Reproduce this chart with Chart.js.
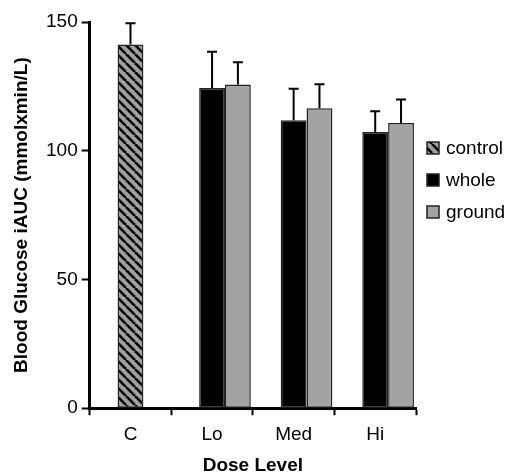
<!DOCTYPE html>
<html>
<head>
<meta charset="utf-8">
<script src="https://cdn.jsdelivr.net/npm/chart.js@4"></script>
<style>
  html, body { margin: 0; padding: 0; background: #fff; }
  #wrap { width: 510px; height: 475px; }
</style>
</head>
<body>
<div id="wrap"><canvas id="glucoseChart" width="510" height="475"></canvas></div>
<script>
// --- Data ---
const doseLevels = ["C", "Lo", "Med", "Hi"];
const controlMeans = [141.3, null, null, null];
const controlErr = [8.2, null, null, null];
const wholeMeans = [null, 124.4, 111.8, 107.3];
const wholeErr = [null, 14.0, 12.3, 8.0];
const groundMeans = [null, 125.7, 116.5, 110.8];
const groundErr = [null, 8.7, 9.3, 9.1];
const emptySlot = [null, null, null, null]; // first (unused) slot of each group
const yTicks = [0, 50, 100, 150];

const FONT = "'Liberation Sans', Arial, sans-serif";

// --- Hatched fill for control ---
function makeHatch() {
    const s = 9;
    const c = document.createElement("canvas");
    c.width = s; c.height = s;
    const g = c.getContext("2d");
    g.fillStyle = "#a0a0a0";
    g.fillRect(0, 0, s, s);
    g.strokeStyle = "#000";
    g.lineWidth = 2.6;
    for (let k = -1; k <= 1; k++) {
        g.beginPath();
        g.moveTo(k * s, 0);
        g.lineTo(k * s + s, s);
        g.stroke();
    }
    return g.createPattern(c, "repeat");
}
const hatch = makeHatch();

// --- Error bars (upper only) ---
const errorBars = {
    id: "errorBars",
    afterDatasetsDraw(chart) {
        const ctx = chart.ctx;
        const y = chart.scales.y;
        chart.data.datasets.forEach((ds, di) => {
            if (!ds.errors) return;
            const meta = chart.getDatasetMeta(di);
            ds.data.forEach((v, i) => {
                if (v === null || ds.errors[i] === null) return;
                const bar = meta.data[i];
                const yTop = y.getPixelForValue(v + ds.errors[i]);
                ctx.save();
                ctx.strokeStyle = "#000";
                ctx.lineWidth = 2;
                ctx.beginPath();
                ctx.moveTo(bar.x, bar.y);
                ctx.lineTo(bar.x, yTop);
                ctx.moveTo(bar.x - 5, yTop);
                ctx.lineTo(bar.x + 5, yTop);
                ctx.stroke();
                ctx.restore();
            });
        });
    }
};

// --- Legend on the right ---
const sideLegend = {
    id: "sideLegend",
    afterDraw(chart) {
        const ctx = chart.ctx;
        const items = chart.data.datasets.filter(ds => ds.label);
        items.forEach((ds, i) => {
            const cy = 148 + i * 32;
            ctx.save();
            ctx.fillStyle = ds.backgroundColor;
            ctx.fillRect(427, cy - 6, 12, 12);
            ctx.strokeStyle = "#222";
            ctx.lineWidth = 1.5;
            ctx.strokeRect(427, cy - 6, 12, 12);
            ctx.fillStyle = "#000";
            ctx.font = "19px " + FONT;
            ctx.textBaseline = "middle";
            ctx.fillText(ds.label, 446, cy + 1);
            ctx.restore();
        });
    }
};

const barStyle = { borderWidth: 1.5, borderColor: "#222", borderSkipped: false };

new Chart(document.getElementById("glucoseChart").getContext("2d"), {
    type: "bar",
    data: {
        labels: doseLevels,
        datasets: [
            { label: "", data: emptySlot, stack: "s0", backgroundColor: "rgba(0,0,0,0)" },
            Object.assign({ label: "control", data: controlMeans, errors: controlErr, stack: "s1", backgroundColor: hatch }, barStyle),
            Object.assign({ label: "whole", data: wholeMeans, errors: wholeErr, stack: "s1", backgroundColor: "#000" }, barStyle),
            Object.assign({ label: "ground", data: groundMeans, errors: groundErr, stack: "s2", backgroundColor: "#a3a3a3" }, barStyle)
        ]
    },
    options: {
        responsive: false,
        animation: false,
        categoryPercentage: 0.95,
        barPercentage: 1.0,
        layout: { padding: { top: 22, right: 94, bottom: 0, left: 8 } },
        plugins: { legend: { display: false }, tooltip: { enabled: false } },
        scales: {
            x: {
                grid: { drawOnChartArea: false, offset: true, tickLength: 7, tickWidth: 2, tickColor: "#000" },
                border: { width: 3, color: "#000" },
                ticks: { color: "#000", font: { family: FONT, size: 19 }, padding: 8 },
                title: {
                    display: true, text: "Dose Level", color: "#000",
                    font: { family: FONT, size: 19, weight: "bold", lineHeight: 1 },
                    padding: { top: 2, bottom: 0 }
                }
            },
            y: {
                stacked: false,
                min: 0,
                max: 150,
                afterBuildTicks(axis) { axis.ticks = yTicks.map(v => ({ value: v })); },
                grid: { drawOnChartArea: false, tickLength: 8, tickWidth: 2, tickColor: "#000" },
                border: { width: 3, color: "#000" },
                ticks: { color: "#000", font: { family: FONT, size: 19 }, padding: 4 },
                title: {
                    display: true, text: "Blood Glucose iAUC (mmolxmin/L)", color: "#000",
                    font: { family: FONT, size: 19, weight: "bold", lineHeight: 1 },
                    padding: { top: 4, bottom: 11 }
                }
            }
        }
    },
    plugins: [errorBars, sideLegend]
});
</script>
</body>
</html>
